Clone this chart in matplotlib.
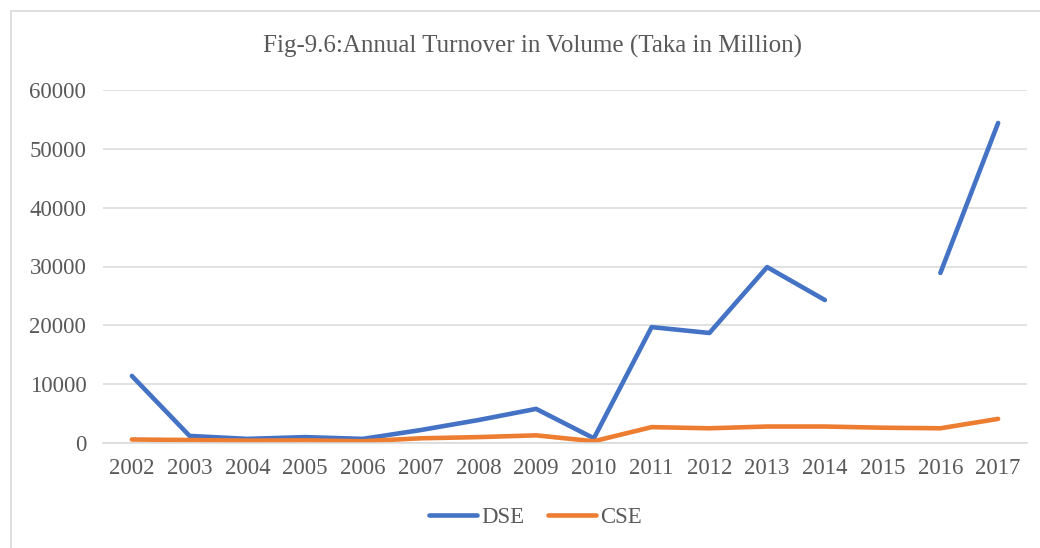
import numpy as np
import matplotlib.pyplot as plt
from matplotlib.patches import Rectangle

years = ['2002', '2003', '2004', '2005', '2006', '2007', '2008', '2009',
         '2010', '2011', '2012', '2013', '2014', '2015', '2016', '2017']
dse = [11400, 1200, 700, 1000, 700, 2200, 3900, 5800,
       800, 19700, 18700, 29900, 24300, np.nan, 28900, 54400]
cse = [600, 500, 400, 450, 300, 800, 1000, 1300,
       300, 2700, 2500, 2800, 2800, 2600, 2500, 4100]

plt.rcParams['font.family'] = ['Liberation Serif', 'DejaVu Serif']
txt = '#595959'

fig = plt.figure(figsize=(10.4, 5.48), dpi=100)
fig.patches.append(Rectangle((11 / 1040, -0.1), 1.2, 1.1 - 11 / 548,
                             transform=fig.transFigure, fill=False,
                             edgecolor='#D9D9D9', linewidth=1.2))
ax = fig.add_axes([103 / 1040, 1 - 443 / 548, (1027 - 103) / 1040, (443 - 90) / 548])

x = np.arange(len(years))
ax.plot(x, dse, color='#4472C4', linewidth=3.3, solid_capstyle='round',
        solid_joinstyle='round', label='DSE')
ax.plot(x, cse, color='#ED7D31', linewidth=3.3, solid_capstyle='round',
        solid_joinstyle='round', label='CSE')

ax.set_xlim(-0.5, len(years) - 0.5)
ax.set_ylim(0, 60000)
ax.set_yticks(range(0, 60001, 10000))
ax.set_xticks(x)
ax.set_xticklabels(years)
ax.grid(axis='y', color='#D9D9D9', linewidth=1.1)
ax.set_axisbelow(True)
for s in ['top', 'right', 'left']:
    ax.spines[s].set_visible(False)
ax.spines['bottom'].set_color('#D9D9D9')
ax.spines['bottom'].set_linewidth(1.1)
ax.tick_params(axis='both', length=0, labelsize=16.5, labelcolor=txt)
ax.tick_params(axis='y', pad=12)
ax.tick_params(axis='x', pad=11)

fig.text(0.512, 1 - 46 / 548, 'Fig-9.6:Annual Turnover in Volume (Taka in Million)',
         ha='center', va='center', fontsize=18, color=txt)

leg = fig.legend(loc='center', bbox_to_anchor=(0.515, 1 - 517 / 548), ncol=2,
                 frameon=False, fontsize=16.5, handlelength=2.1, columnspacing=1.0,
                 handletextpad=0.2)
for t in leg.get_texts():
    t.set_color(txt)

fig.savefig('out.png', dpi=100)
